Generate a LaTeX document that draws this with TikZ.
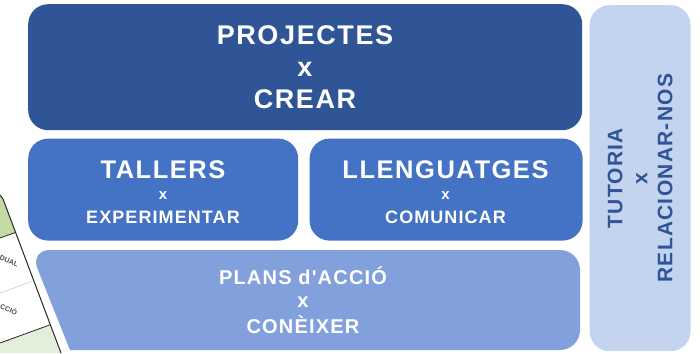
\documentclass[tikz,border=0pt]{standalone}
\usepackage{fontspec}
\setmainfont{Liberation Sans}[Ligatures=TeXOff]
\usetikzlibrary{positioning}

\definecolor{projblue}{HTML}{2F5597}
\definecolor{tallblue}{HTML}{4472C4}
\definecolor{plansblue}{HTML}{82A1DC}
\definecolor{tutblue}{HTML}{C5D4EE}
\definecolor{taulagreen}{HTML}{C5D9A3}
\definecolor{taulapale}{HTML}{E3EFDA}

\begin{document}
\begin{tikzpicture}[
	x = 1pt, y = -1pt,
	block/.style = {rectangle, rounded corners=20pt, inner sep=0pt},
	title/.style = {text=white, anchor=base, inner sep=0pt,
		font=\bfseries\addfontfeature{LetterSpace=6}\fontsize{#1}{#1}\selectfont},
	title/.default = 24,
	tabletext/.style = {text=black!70, rotate=-22,
		font=\bfseries\fontsize{7}{7}\selectfont}
	]
	\useasboundingbox (0,0) rectangle (700,353);

	% retall de la taula de fons
	\begin{scope}
	\clip (0,0) rectangle (700,353);
	\fill[taulagreen] (0,195) -- (3,199) -- (15.4,232.5) -- (0,238) -- cycle;
	\fill[taulapale] (0,343) -- (49.6,325) -- (60,353) -- (0,353) -- cycle;
	\draw[gray!45, line width=0.5pt] (0,293) -- (33,281);
	\draw[black!85, line width=0.8pt] (0,238) -- (15.4,232.5);
	\draw[black!85, line width=0.8pt] (0,343) -- (49.6,325);
	\draw[black!85, line width=1pt] (0,195) -- (3,199) -- (61,353);
	\node[tabletext] (dual) at (9,261) {DUAL};
	\node[tabletext] (accio) at (9,309) {CCIÓ};
	\end{scope}

	\node[block, fill=projblue, minimum width=554pt, minimum height=126pt, anchor=north west] (proj) at (28,4) {};
	\node[block, fill=tallblue, minimum width=270pt, minimum height=102pt,
		below=8pt of proj.south west, anchor=north west] (tall) {};
	\node[block, fill=tallblue, minimum width=273pt, minimum height=102pt,
		right=11pt of tall.north east, anchor=north west] (llen) {};
	\node[block, fill=tutblue, minimum width=101pt, minimum height=346pt,
		right=7pt of proj.north east, anchor=north west, yshift=-1pt] (tut) {};
	\fill[plansblue, rounded corners=20pt] (70,350) -- (30,250) -- (580,250) -- (580,350) -- (70,350);

	\node[title=27] (projA) at (305,45) {PROJECTES};
	\node[title=27] (projX) at (305,76) {x};
	\node[title=27] (projC) at (305,108) {CREAR};

	\node[title=25.5] (tallA) at (163,178) {TALLERS};
	\node[title=15] (tallX) at (163,199) {x};
	\node[title=18] (tallC) at (163,223) {EXPERIMENTAR};

	\node[title=25.5] (llenA) at (445.5,178) {LLENGUATGES};
	\node[title=15] (llenX) at (445.5,199) {x};
	\node[title=18] (llenC) at (445.5,223) {COMUNICAR};

	\node[title=20] (plansA) at (303,284) {PLANS d'ACCIÓ};
	\node[title=20] (plansX) at (303,307) {x};
	\node[title=20] (plansC) at (303,333) {CONÈIXER};

	\node[rotate=90, align=center, text=projblue, inner sep=0pt,
		font=\bfseries\addfontfeature{LetterSpace=6}\fontsize{21}{25}\selectfont]
		(tutA) at (tut.center) {TUTORIA\\x\\RELACIONAR-NOS};
\end{tikzpicture}
\end{document}
